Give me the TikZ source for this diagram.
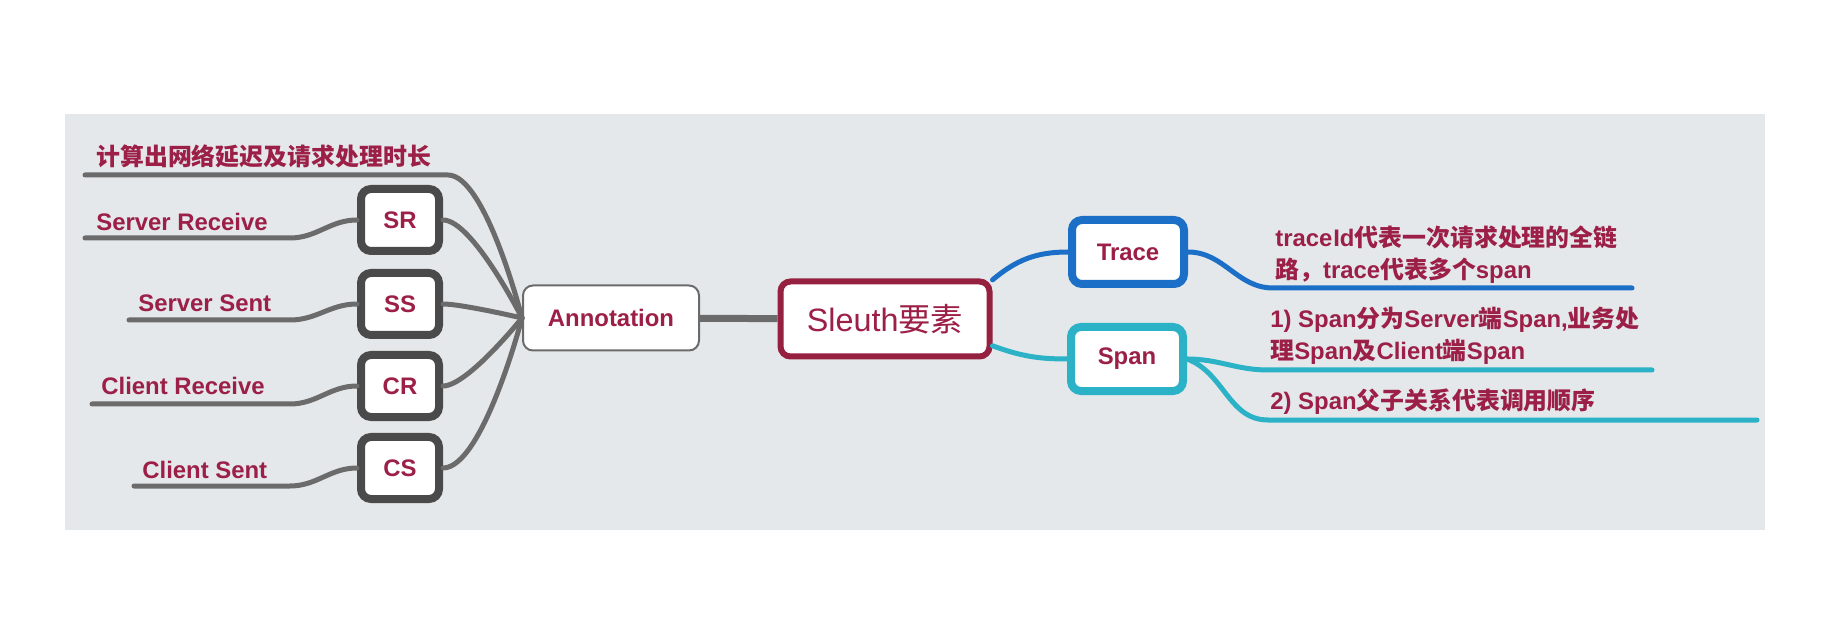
\documentclass[tikz,border=0pt]{standalone}
\usepackage{fontspec}
\setmainfont{Liberation Sans}
\newfontfamily\zhfont{Noto Sans CJK SC}
\newcommand\zh[1]{{\zhfont #1}}
\usetikzlibrary{calc}
\definecolor{bgc}{HTML}{E4E8EA}
\definecolor{txtred}{HTML}{9C1F47}
\definecolor{rootred}{HTML}{95203F}
\definecolor{linegray}{HTML}{6B6B6B}
\definecolor{boxgray}{HTML}{4A4A4A}
\definecolor{traceblue}{HTML}{1C6FC6}
\definecolor{spancyan}{HTML}{2BB2C6}
\def\leafnode{\node[leaf]}

\begin{document}
\begin{tikzpicture}[x=0.2mm,y=-0.2mm,
  every node/.style={font=\fontsize{13.6}{18.7}\selectfont\bfseries,text=txtred},
  box/.style={draw,fill=white,rounded corners=2mm,inner sep=0pt},
  leaf/.style={box,draw=boxgray,line width=1.6mm,minimum width=15.6mm,minimum height=12.4mm},
  hub/.style={box,draw=linegray,line width=0.4mm,minimum width=35.2mm,minimum height=13mm},
  root/.style={box,draw=rootred,line width=1.2mm,minimum width=41.8mm,minimum height=15mm,
    font=\fontsize{18.4}{22}\selectfont},
  branch/.style={box,line width=1.6mm,minimum width=22.4mm,minimum height=12.8mm},
  note/.style={anchor=base west,inner sep=0pt,align=left},
  gline/.style={draw=linegray,line width=1mm,line cap=round},
  bline/.style={draw=traceblue,line width=1mm,line cap=round},
  cline/.style={draw=spancyan,line width=1mm,line cap=round}]
\useasboundingbox (0,0) rectangle (1841,642);
\fill[bgc] (65,114) rectangle (1765,530);
\node[hub] (ann) at (611,318) {Annotation};
\node[root] (root) at (885,319) {Sleuth\zh{要素}};
\node[branch,draw=traceblue] (trace) at (1128,252) {Trace};
\node[branch,draw=spancyan] (span) at (1127,359) {Span};
\leafnode (sr) at (400,220) {SR};
\leafnode (ss) at (400,304) {SS};
\leafnode (cr) at (400,386) {CR};
\leafnode (cs) at (400,468) {CS};
\coordinate (calc0) at (85,175);
\coordinate (calc1) at (448,175);
\coordinate (sr0) at (85,238);
\coordinate (sr1) at (290,238);
\coordinate (ss0) at (129,320);
\coordinate (ss1) at (290,320);
\coordinate (cr0) at (92,404);
\coordinate (cr1) at (290,404);
\coordinate (cs0) at (134,486);
\coordinate (cs1) at (290,486);
\coordinate (tr0) at (1273,288);
\coordinate (tr1) at (1632,288);
\coordinate (sa0) at (1268,370);
\coordinate (sa1) at (1652,370);
\coordinate (sb0) at (1268,420);
\coordinate (sb1) at (1757,420);
\node[note] (calctext) at (96,166) {\zh{计算出网络延迟及请求处理时长}};
\node[note] (srtext) at (96,231) {Server Receive};
\node[note] (sstext) at (138,312) {Server Sent};
\node[note] (crtext) at (101,395) {Client Receive};
\node[note] (cstext) at (142,478) {Client Sent};
\node[note] (trtext) at (1275,279) {trace\kern0.5ptId\zh{代表一次请求处理的全链}\\\zh{路，}trace\zh{代表多个}span};
\node[note] (satext) at (1270,360) {1) Span\zh{分为}Server\zh{端}Span,\zh{业务处}\\\zh{理}Span\zh{及}Client\zh{端}Span};
\node[note] (sbtext) at (1270,410) {2) Span\zh{父子关系代表调用顺序}};
\draw[gline,line width=1.4mm,line cap=butt] (ann) -- (root);
\draw[gline] (calc0) -- (calc1) to[out=0,in=180,out looseness=0.6,in looseness=0] (ann.west);
\foreach \n in {sr,ss,cr,cs} {
  \draw[gline] (\n.east) to[out=0,in=180,out looseness=0.6,in looseness=0] (ann.west);
  \draw[gline] (\n.west) to[out=180,in=0] (\n1) -- (\n0);
}
\draw[bline] (root.20) to[out=40,in=180] (trace.west);
\draw[cline] (root.-14) to[out=-20,in=180] (span.west);
\draw[bline] (trace.east) to[out=0,in=180] (tr0) -- (tr1);
\draw[cline] (span.east) to[out=0,in=180] (sa0) -- (sa1);
\draw[cline] (span.east) to[out=-20,in=180] (sb0) -- (sb1);
\end{tikzpicture}
\end{document}
